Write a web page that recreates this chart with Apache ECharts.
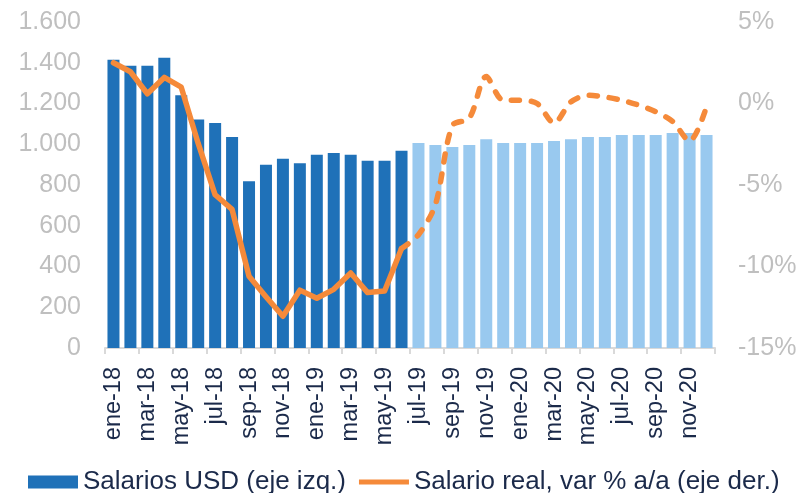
<!DOCTYPE html>
<html>
<head>
<meta charset="utf-8">
<script src="https://cdn.jsdelivr.net/npm/echarts@6/dist/echarts.min.js"></script>
<style>
  html, body { margin: 0; padding: 0; background: #fff; }
  #chart { width: 802px; height: 493px; }
</style>
</head>
<body>
<div id="chart"></div>
<script>
// meses ene-18 .. dic-20
var meses = ['ene-18','feb-18','mar-18','abr-18','may-18','jun-18','jul-18','ago-18','sep-18','oct-18','nov-18','dic-18',
             'ene-19','feb-19','mar-19','abr-19','may-19','jun-19','jul-19','ago-19','sep-19','oct-19','nov-19','dic-19',
             'ene-20','feb-20','mar-20','abr-20','may-20','jun-20','jul-20','ago-20','sep-20','oct-20','nov-20','dic-20'];

// salarios en USD (eje izq.)
var salariosUSD = [1415, 1385, 1385, 1425, 1240, 1122, 1104, 1035, 819, 899, 929, 907,
                   949, 957, 949, 919, 919, 968, 1006, 996, 986, 996, 1025, 1006,
                   1006, 1006, 1016, 1025, 1035, 1035, 1045, 1045, 1045, 1055, 1055, 1045];

// salario real, var % a/a (eje der.)
var salarioReal = [2.5, 1.95, 0.6, 1.6, 1.0, -2.45, -5.6, -6.5, -10.6, -11.85, -13.05, -11.45,
                   -11.95, -11.4, -10.4, -11.6, -11.5, -8.9, -8.05, -6.2, -1.35, -0.9, 1.65, 0.2,
                   0.2, 0.0, -1.2, 0.1, 0.5, 0.4, 0.2, -0.1, -0.5, -1.1, -2.3, -0.2];

var ultimoDato = 17; // jun-19: ultimo mes observado, despues proyeccion

var yIzqTicks = [0, 1600, 200];
var yDerTicks = [-15, 5, 5];

var nombreBarras = 'Salarios USD (eje izq.)';
var nombreLinea = 'Salario real, var % a/a (eje der.)';

var azul = '#1F71B8', celeste = '#99C9EF', naranja = '#F58A3A';
var textoOscuro = '#1B2A4A', textoGris = '#BFBFBF';

var barras = salariosUSD.map(function (v, i) {
  return i <= ultimoDato ? v : { value: v, itemStyle: { color: celeste } };
});
var lineaObs = salarioReal.map(function (v, i) { return i <= ultimoDato ? v : null; });
var lineaProy = salarioReal.map(function (v, i) { return i >= ultimoDato ? v : null; });

function miles(v) {
  return String(v).replace(/\B(?=(\d{3})+(?!\d))/g, '.');
}

var myChart = echarts.init(document.getElementById('chart'));

var option = {
  animation: false,
  textStyle: { fontFamily: 'Liberation Sans' },
  grid: { left: 105, right: 87, top: 22, bottom: 145 },
  legend: {
    left: 23,
    top: 464,
    itemWidth: 50,
    itemHeight: 13,
    itemGap: 13,
    symbolKeepAspect: true,
    textStyle: { color: textoOscuro, fontSize: 26, fontFamily: 'Liberation Sans' },
    data: [
      { name: nombreBarras, icon: 'rect' },
      { name: nombreLinea, icon: 'path://M0,0H50V5H0Z', itemStyle: { color: naranja } }
    ]
  },
  xAxis: {
    type: 'category',
    data: meses,
    axisLine: { lineStyle: { color: '#D9D9D9', width: 2 } },
    axisTick: { show: true, length: 6, lineStyle: { color: '#D9D9D9', width: 2 } },
    axisLabel: {
      interval: 1,
      rotate: 90,
      margin: 19,
      color: textoOscuro,
      fontSize: 23.5,
      fontFamily: 'Liberation Sans'
    }
  },
  yAxis: [
    {
      type: 'value',
      min: yIzqTicks[0], max: yIzqTicks[1], interval: yIzqTicks[2],
      axisLine: { show: false },
      axisTick: { show: false },
      splitLine: { show: false },
      axisLabel: { color: textoGris, fontSize: 25, margin: 24, formatter: miles }
    },
    {
      type: 'value',
      min: yDerTicks[0], max: yDerTicks[1], interval: yDerTicks[2],
      axisLine: { show: false },
      axisTick: { show: false },
      splitLine: { show: false },
      axisLabel: { color: textoGris, fontSize: 25, margin: 23, formatter: '{value}%' }
    }
  ],
  series: [
    {
      name: nombreBarras,
      type: 'bar',
      barWidth: 12,
      itemStyle: { color: azul },
      data: barras
    },
    {
      name: nombreLinea,
      type: 'line',
      yAxisIndex: 1,
      symbol: 'none',
      lineStyle: { color: naranja, width: 5.5, cap: 'round', join: 'round' },
      itemStyle: { color: naranja },
      data: lineaObs,
      z: 3
    },
    {
      name: nombreLinea,
      type: 'line',
      yAxisIndex: 1,
      symbol: 'none',
      smooth: 0.3,
      lineStyle: { color: naranja, width: 5.5, type: [8, 12], cap: 'round', join: 'round' },
      itemStyle: { color: naranja },
      data: lineaProy,
      z: 3
    }
  ]
};

myChart.setOption(option);
</script>
</body>
</html>
